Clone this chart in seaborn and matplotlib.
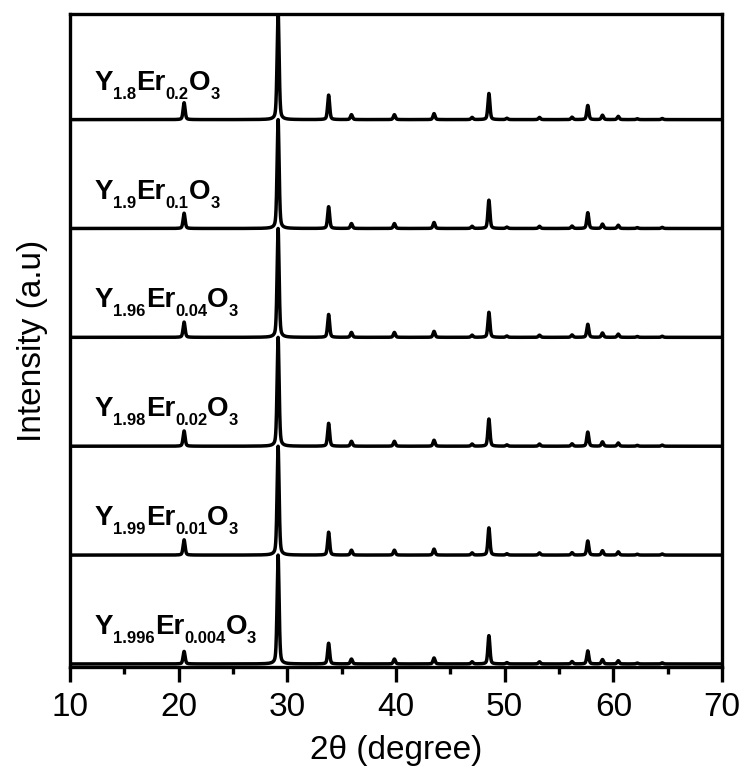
import numpy as np
import pandas as pd
import seaborn as sns
import matplotlib.pyplot as plt
from matplotlib.ticker import MultipleLocator

# sample labels, top to bottom
y_sub = ['1.8', '1.9', '1.96', '1.98', '1.99', '1.996']
er_sub = ['0.2', '0.1', '0.04', '0.02', '0.01', '0.004']

# reflection positions (2theta, degree)
peak_pos = [20.5, 29.15, 33.8, 35.9, 39.85, 43.5, 47.0, 48.55, 50.2,
            53.2, 56.2, 57.65, 59.0, 60.45, 62.2, 64.5]

# relative heights per sample (top to bottom), main (222) peak = 1
h_211 = [0.155, 0.14, 0.14, 0.14, 0.14, 0.115]
h_400 = [0.225, 0.2, 0.21, 0.21, 0.21, 0.19]
h_440 = [0.24, 0.26, 0.23, 0.25, 0.25, 0.26]
h_622 = [0.13, 0.145, 0.12, 0.13, 0.13, 0.12]
# weak reflections, same in all samples
h_weak = {35.9: 0.045, 39.85: 0.045, 43.5: 0.055, 47.0: 0.02, 50.2: 0.012,
          53.2: 0.02, 56.2: 0.022, 59.0: 0.04, 60.45: 0.03, 62.2: 0.008,
          64.5: 0.01}

two_theta = np.arange(10, 70.001, 0.01)
fwhm = 0.22

rows = []
n = len(y_sub)
for i in range(n):
    heights = {20.5: h_211[i], 29.15: 1.0, 33.8: h_400[i], 48.55: h_440[i],
               57.65: h_622[i]}
    heights.update(h_weak)
    inten = np.zeros_like(two_theta)
    for p in peak_pos:
        # pseudo-Voigt profile of each reflection
        g = np.exp(-4 * np.log(2) * ((two_theta - p) / fwhm) ** 2)
        lz = 1 / (1 + 4 * ((two_theta - p) / fwhm) ** 2)
        inten += heights[p] * (0.6 * g + 0.4 * lz)
    offset = n - 1 - i
    rows.append(pd.DataFrame({'two_theta': two_theta,
                              'intensity': inten + offset,
                              'sample': f'Y{y_sub[i]}Er{er_sub[i]}O3'}))
df = pd.concat(rows, ignore_index=True)

sns.set_theme(style='ticks')
plt.rcParams['font.family'] = ['Liberation Sans', 'DejaVu Sans']
plt.rcParams['text.color'] = 'black'
plt.rcParams['axes.labelcolor'] = 'black'
plt.rcParams['xtick.color'] = 'black'

fig = plt.figure(figsize=(7.44, 7.80), dpi=100)
ax = fig.add_axes([70 / 744, 1 - 667 / 780, 652 / 744, 653 / 780])

sns.lineplot(data=df, x='two_theta', y='intensity', hue='sample',
             palette=['black'] * n, estimator=None, sort=False,
             legend=False, linewidth=2.5, ax=ax)

ax.set_xlim(10, 70)
ax.set_ylim(-0.028, 5.97)
ax.set_yticks([])
ax.xaxis.set_major_locator(MultipleLocator(10))
ax.xaxis.set_minor_locator(MultipleLocator(5))
ax.tick_params(axis='x', which='major', direction='out', length=11, width=2.4,
               labelsize=24, pad=7, color='black', labelcolor='black')
ax.tick_params(axis='x', which='minor', direction='out', length=5, width=2.4,
               color='black')
for s in ax.spines.values():
    s.set_linewidth(2.4)
    s.set_color('black')

ax.set_xlabel('2θ (degree)', fontsize=24, labelpad=9)
ax.set_ylabel('Intensity (a.u)', fontsize=24, labelpad=16)

# chemical formula labels with subscripts
fig.canvas.draw()
renderer = fig.canvas.get_renderer()
for i in range(n):
    parts = [('Y', False), (y_sub[i], True), ('Er', False), (er_sub[i], True),
             ('O', False), ('3', True)]
    base = n - 1 - i + 0.275
    dx = 0
    for s, sub in parts:
        t = ax.annotate(s, xy=(12.3, base), xytext=(dx, -6.5 if sub else 0),
                        textcoords='offset points', ha='left', va='baseline',
                        fontsize=12 if sub else 20, fontweight='bold',
                        color='black')
        dx += t.get_window_extent(renderer).width * 72 / fig.dpi

fig.savefig('out.png', dpi=100)
